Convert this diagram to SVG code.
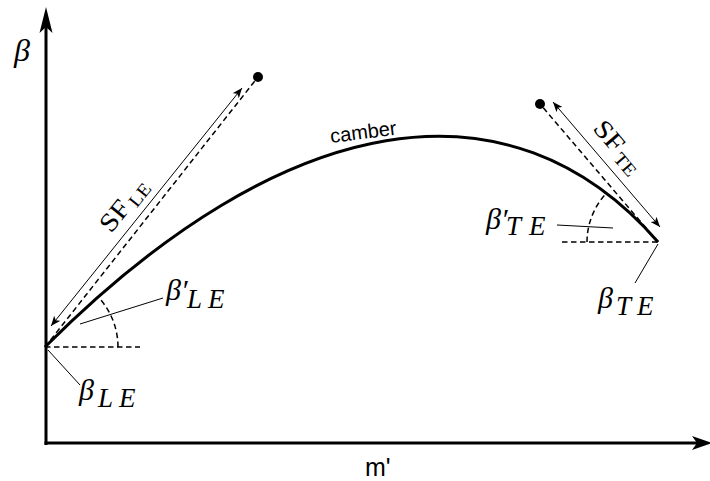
<svg xmlns="http://www.w3.org/2000/svg" width="710" height="481" viewBox="0 0 710 481">
<defs>
<style>
.axis{stroke:#000;stroke-width:3;fill:none}
.head{fill:#000;stroke:none}
.camber{stroke:#000;stroke-width:3;fill:none}
.dash{stroke:#000;stroke-width:1.5;fill:none;stroke-dasharray:5.5,3.5}
.thin{stroke:#000;stroke-width:1;fill:none}
.sf{stroke:#000;stroke-width:1;fill:none;marker-start:url(#ah);marker-end:url(#ah)}
.math{font-family:"Liberation Serif","DejaVu Serif",serif;font-style:italic;fill:#000;font-size:30px}
.sub{font-family:"Liberation Serif","DejaVu Serif",serif;font-style:italic;fill:#000;font-size:27px}
.rm{font-family:"Liberation Serif","DejaVu Serif",serif;fill:#000}
.sans{font-family:"Liberation Sans",Arial,sans-serif;fill:#000}
</style>
<marker id="ah" viewBox="0 0 10 8" refX="10" refY="4" markerWidth="10" markerHeight="8" markerUnits="userSpaceOnUse" orient="auto-start-reverse">
<path d="M10,4 L0,0 L2.5,4 L0,8 Z" fill="#000"/>
</marker>
</defs>
<rect width="710" height="481" fill="#fff"/>

<g id="axes">
<line class="axis" x1="46" y1="445" x2="46" y2="26"/>
<path class="head" d="M46,7 L52.5,33 L46,27 L39.5,33 Z"/>
<line class="axis" x1="44.5" y1="443" x2="697" y2="443"/>
<path class="head" d="M712,443 L692,436 L697,443 L692,450 Z"/>
<text class="math" x="14" y="61" style="font-size:32px">β</text>
<text class="sans" x="365" y="476" font-size="25">m'</text>
</g>

<g id="connectors">
<line class="dash" x1="45" y1="347" x2="258" y2="77"/>
<line class="dash" x1="658" y1="242" x2="540" y2="104"/>
<line class="dash" x1="45" y1="347" x2="140" y2="347"/>
<line class="dash" x1="562" y1="242" x2="658" y2="242"/>
<path class="dash" d="M118,347 A73,73 0 0 0 97.5,296.3"/>
<path class="dash" d="M587,242 A71,71 0 0 1 604.9,194.9"/>
<line class="sf" x1="51" y1="326" x2="242" y2="88"/>
<line class="sf" x1="553" y1="102" x2="660" y2="227"/>
<line class="thin" x1="80" y1="324" x2="163" y2="298"/>
<line class="thin" x1="48" y1="350" x2="80" y2="385"/>
<line class="thin" x1="557" y1="225" x2="613" y2="228"/>
<line class="thin" x1="658" y1="244" x2="635" y2="283"/>
</g>

<g id="camber">
<path class="camber" d="M45,347 C285,107 510,72 658,242"/>
<text class="sans" font-size="20" transform="translate(331,143) rotate(-7.2)">camber</text>
</g>

<g id="le-point">
<circle cx="258" cy="77" r="5" fill="#000"/>
</g>
<g id="te-point">
<circle cx="540" cy="104" r="5" fill="#000"/>
</g>

<g id="sf-le-label" transform="translate(111,234) rotate(-51.25)">
<text class="rm" x="0" y="0" font-size="26" textLength="33" lengthAdjust="spacingAndGlyphs">SF</text>
<text class="rm" x="36" y="4" font-size="18" textLength="25" lengthAdjust="spacingAndGlyphs">LE</text>
</g>
<g id="sf-te-label" transform="translate(592,129) rotate(49.4)">
<text class="rm" x="0" y="0" font-size="26" textLength="33" lengthAdjust="spacingAndGlyphs">SF</text>
<text class="rm" x="36" y="4" font-size="18" textLength="25" lengthAdjust="spacingAndGlyphs">TE</text>
</g>

<g id="beta-le-prime">
<text class="math" x="166" y="300">β′</text>
<text class="sub" x="187 208" y="308">LE</text>
</g>
<g id="beta-le">
<text class="math" x="79" y="400">β</text>
<text class="sub" x="98 119" y="407">LE</text>
</g>
<g id="beta-te-prime">
<text class="math" x="486" y="229">β′</text>
<text class="sub" x="506 529" y="235">TE</text>
</g>
<g id="beta-te">
<text class="math" x="598" y="308">β</text>
<text class="sub" x="616 637" y="315">TE</text>
</g>
</svg>
